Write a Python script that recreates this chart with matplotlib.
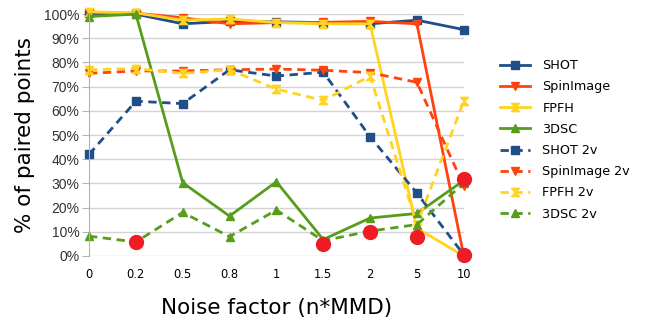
import matplotlib
matplotlib.use("Agg")
import matplotlib.pyplot as plt
from matplotlib.ticker import PercentFormatter

noise = ["0", "0.2", "0.5", "0.8", "1", "1.5", "2", "5", "10"]

shot = [100.3, 100.0, 96.0, 97.0, 96.8, 96.5, 96.0, 97.5, 93.6]
spin = [100.6, 100.4, 98.5, 96.0, 96.5, 96.6, 97.0, 96.0, 0.0]
fpfh = [101.0, 100.5, 97.5, 98.0, 96.5, 96.0, 96.0, 11.5, 0.0]
dsc = [99.0, 100.0, 30.3, 16.5, 30.7, 6.8, 15.7, 17.6, 31.2]

shot2 = [42.0, 64.0, 63.0, 77.0, 74.4, 76.0, 49.3, 26.0, 0.5]
spin2 = [75.5, 76.5, 76.5, 77.0, 77.3, 76.8, 75.8, 71.8, 29.0]
fpfh2 = [77.0, 77.5, 75.5, 77.0, 69.0, 64.3, 74.4, 13.0, 64.0]
dsc22 = [8.2, 5.8, 18.0, 8.0, 19.0, 6.3, 10.3, 13.0, 30.0]

# highlighted failure points
circ_x = [1, 5, 6, 7, 8, 8]
circ_y = [5.6, 4.8, 10.0, 7.9, 32.0, 0.3]

blue = "#1f4e89"
red = "#ff420e"
yellow = "#ffd320"
green = "#579d1c"
hourglass = [(-1, 1), (1, 1), (-1, -1), (1, -1), (-1, 1)]

fig = plt.figure(figsize=(6.45, 3.21), dpi=100)
ax = fig.add_axes([0.138, 0.2025, 0.581, 0.7535])
x = list(range(len(noise)))

series = [
    ("SHOT", shot, blue, "s", "-"),
    ("SpinImage", spin, red, "v", "-"),
    ("FPFH", fpfh, yellow, hourglass, "-"),
    ("3DSC", dsc, green, "^", "-"),
    ("SHOT 2v", shot2, blue, "s", "--"),
    ("SpinImage 2v", spin2, red, "v", "--"),
    ("FPFH 2v", fpfh2, yellow, hourglass, "--"),
    ("3DSC 2v", dsc22, green, "^", "--"),
]
for name, vals, col, mk, ls in series:
    ax.plot(x, vals, color=col, marker=mk, linestyle=ls, lw=2, ms=6,
            label=name, clip_on=False, dashes=(3, 2) if ls == "--" else (None, None))

ax.plot(circ_x, circ_y, "o", color="#ee1c25", ms=10, clip_on=False, zorder=5)

ax.set_xlim(0, 8)
ax.set_ylim(0, 100)
ax.set_yticks(range(0, 101, 10))
ax.yaxis.set_major_formatter(PercentFormatter(decimals=0))
ax.set_xticks(x)
ax.set_xticklabels(noise)
ax.grid(axis="y", color="#d3d3d3", lw=1)
ax.set_axisbelow(True)
for s in ["top", "right", "bottom"]:
    ax.spines[s].set_visible(False)
ax.spines["left"].set_color("#b3b3b3")
ax.tick_params(axis="y", length=5, color="#b3b3b3", pad=2, labelcolor="#333333")
ax.tick_params(axis="x", length=0, labelsize=8.3, pad=9)
for lab in ax.get_yticklabels():
    lab.set_fontfamily("Liberation Sans")
    lab.set_fontsize(10)

ax.set_xlabel("Noise factor (n*MMD)", fontsize=15.5, labelpad=12)
ax.set_ylabel("% of paired points", fontsize=15.5, labelpad=6)

ax.legend(loc="center left", bbox_to_anchor=(1.065, 0.48), frameon=False,
          fontsize=9.2, handlelength=2.35, handletextpad=1.0, labelspacing=0.64)

fig.savefig("out.png", dpi=100)
